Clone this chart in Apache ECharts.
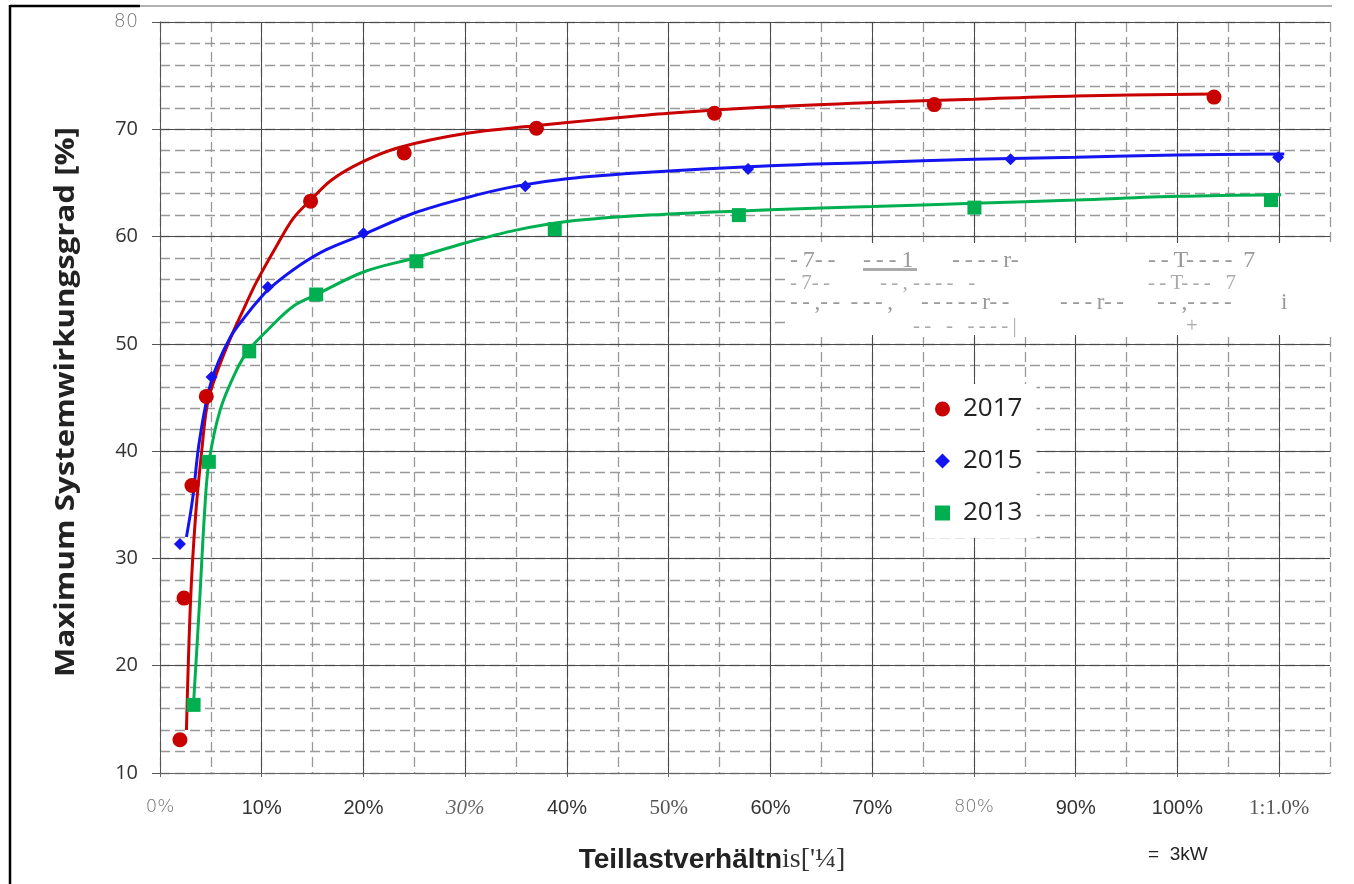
<!DOCTYPE html>
<html><head><meta charset="utf-8">
<script src="https://cdn.jsdelivr.net/npm/echarts@6/dist/echarts.min.js"></script>
<style>html,body{margin:0;padding:0;background:#fff}#c{width:1354px;height:884px}</style>
</head><body><div id="c"></div>
<script>
// ---- data ----
const years = ['2017', '2015', '2013'];
const xTickLabels = ['0%', '10%', '20%', '30%', '40%', '50%', '60%', '70%', '80%', '90%', '100%', '1:1.0%'];
const yTickLabels = ['10', '20', '30', '40', '50', '60', '70', '80'];

const dots2017 = [[1.96,13.1],[2.36,26.3],[3.14,36.8],[4.55,45.1],[14.8,63.3],[24.0,67.8],[37.0,70.1],[54.5,71.5],[76.1,72.3],[103.6,73.0]];
const dots2015 = [[1.96,31.35],[5.07,46.9],[10.6,55.3],[20.0,60.3],[35.9,64.7],[57.8,66.3],[83.6,67.2],[109.9,67.4]];
const dots2013 = [[3.3,16.35],[4.8,39.0],[8.77,49.3],[15.35,54.6],[25.2,57.7],[38.8,60.7],[56.9,62.0],[80.05,62.7],[109.2,63.4]];

const curve2017 = [[2.6,14.0],[3.0,26.0],[3.5,34.0],[4.1,40.0],[4.7,44.6],[5.7,47.6],[7.0,50.7],[8.3,53.4],[9.5,55.8],[11.5,59.2],[13.1,61.7],[14.8,63.4],[16.9,65.3],[20,67.0],[23.5,68.3],[30,69.6],[36.6,70.3],[43,70.9],[50,71.5],[60,72.1],[70,72.5],[80,72.8],[90,73.1],[103.5,73.3]];
const curve2015 = [[2.6,32.0],[3.2,35.5],[3.9,41.1],[5.07,46.6],[6.9,50.6],[8.5,52.7],[9.8,54.2],[10.8,55.2],[13.7,57.3],[16.4,58.8],[20,60.2],[25,62.2],[30,63.6],[35,64.7],[40,65.4],[48,66.0],[60,66.6],[70,66.9],[80,67.2],[90,67.4],[100,67.6],[110.5,67.7]];
const curve2013 = [[3.3,16.5],[3.9,26.1],[4.4,34.6],[4.8,38.9],[5.9,43.8],[7.5,47.5],[8.7,49.4],[10.8,51.5],[13.1,53.5],[15.4,54.6],[20,56.7],[25,58.0],[30,59.4],[35,60.6],[40,61.4],[48,62.0],[60,62.5],[70,62.8],[80,63.1],[90,63.4],[100,63.75],[110.2,63.9]];

const yTitle = 'Maximum Systemwirkungsgrad [%]';
const unitNote = '=  3kW';
// scan noise text seen in the white patch of the picture
const ocrText = [
  ['-7-- ', '---1', '----r-', '--T---- 7'],
  ['-7--', '--, ----  -', '--T---  7'],
  ['--,-- ---,', '-----r--', '---r--', '--,----', 'i'],
  ['--  -  ----|', '+']
];

// ---- chart ----
const colors = ['#c80000', '#1414f0', '#00b050'];
const dots = [dots2017, dots2015, dots2013];
const curves = [curve2017, curve2015, curve2013];
const symbols = ['circle', 'diamond', 'rect'];
const symSizes = [15, 12, 14];

const xStyleKey = ['lt','sn','sn','si','sn','sf','sn','sn','lt','sn','sn','sf'];
const chart = echarts.init(document.getElementById('c'), null, {renderer: 'canvas'});

const series = [];
years.forEach((y, i) => {
  series.push({
    name: 'fit' + y, type: 'line', data: curves[i], smooth: 0.35, showSymbol: false,
    lineStyle: {color: colors[i], width: 3}, itemStyle: {color: colors[i]}, z: 3, silent: true
  });
});
years.forEach((y, i) => {
  series.push({
    name: y, type: 'scatter', data: dots[i], symbol: symbols[i], symbolSize: symSizes[i],
    itemStyle: {color: colors[i], opacity: 1}, z: 4
  });
});

// positions of the noise segments (layout, not data)
const ocrPos = [
  [[790, 261], [863, 261], [952, 261], [1148, 261]],
  [[790, 283], [880, 283], [1148, 283]],
  [[790, 303], [921, 303], [1060, 303], [1157, 303], [1281, 303]],
  [[913, 326], [1186, 326]]
];
const ocrFont = ['24px "Liberation Serif"', '21px "Liberation Serif"', '23px "Liberation Serif"', '21px "Liberation Serif"'];
const ocrFill = ['#999', '#aaa', '#999', '#aaa'];
const ocrGraphics = [];
ocrText.forEach((line, li) => line.forEach((t, si) => {
  ocrGraphics.push({type: 'text', x: ocrPos[li][si][0], y: ocrPos[li][si][1],
    style: {text: t.replace(/-/g, '-\u2009'), font: ocrFont[li], fill: ocrFill[li], textVerticalAlign: 'middle'}, z: 6});
}));

chart.setOption({
  animation: false,
  backgroundColor: '#fff',
  grid: {left: 160, right: 24, top: 22, bottom: 111, containLabel: false},
  xAxis: [{
    type: 'value', min: 0, max: 115, interval: 10, z: 2,
    axisLine: {show: true, onZero: false, lineStyle: {color: '#666', width: 1}},
    axisTick: {show: true, length: 4, lineStyle: {color: '#666'}},
    splitLine: {show: true, showMaxLine: false, lineStyle: {color: '#4a4a4a', width: 1}},
    axisLabel: {
      margin: 25, showMaxLabel: false,
      formatter: v => {
        const k = Math.round(v / 10);
        if (Math.abs(v - k * 10) > 1e-6 || k >= xTickLabels.length) return '';
        return '{' + xStyleKey[k] + '|' + xTickLabels[k] + '}';
      },
      rich: {
        lt: {fontFamily: 'DejaVu Sans', fontSize: 18, color: '#777', fontWeight: 300},
        sn: {fontFamily: 'Liberation Sans', fontSize: 20, color: '#333'},
        si: {fontFamily: 'Liberation Serif', fontSize: 21, color: '#666', fontStyle: 'italic'},
        sf: {fontFamily: 'Liberation Serif', fontSize: 21, color: '#555'}
      }
    }
  }, {
    type: 'value', min: 0, max: 115, interval: 5, z: 1, position: 'bottom',
    axisLine: {show: false}, axisTick: {show: false}, axisLabel: {show: false},
    splitLine: {show: true, lineStyle: {color: '#999', width: 1.3, type: [10, 5]}}
  }],
  yAxis: [{
    type: 'value', min: 10, max: 80, interval: 10, z: 2,
    axisLine: {show: true, lineStyle: {color: '#555'}},
    axisTick: {show: true, length: 8, lineStyle: {color: '#555'}},
    splitLine: {show: true, lineStyle: {color: '#4a4a4a', width: 1}},
    axisLabel: {
      margin: 22,
      formatter: v => {
        const k = Math.round((v - 10) / 10);
        const t = yTickLabels[k];
        return v === 80 ? '{lt|' + t + '}' : '{n|' + t + '}';
      },
      rich: {
        lt: {fontFamily: 'DejaVu Sans', fontSize: 19, color: '#777', fontWeight: 300},
        n: {fontFamily: 'Open Sans', fontSize: 20, color: '#333'}
      }
    }
  }, {
    type: 'value', min: 10, max: 80, interval: 2, z: 1,
    axisLine: {show: false}, axisTick: {show: false}, axisLabel: {show: false},
    splitLine: {show: true, lineStyle: {color: '#999', width: 1.3, type: [10, 5]}}
  }],
  legend: {
    data: years.map((y, i) => ({name: y, icon: symbols[i]})),
    orient: 'vertical', left: 925, top: 384,
    itemWidth: 15, itemHeight: 15, itemGap: 26,
    backgroundColor: '#fff', padding: [12, 14, 12, 10],
    textStyle: {fontFamily: 'Open Sans', fontSize: 26, color: '#222', lineHeight: 26, padding: [0, 0, 0, 8]}
  },
  series: series,
  graphic: [
    {type: 'line', shape: {x1: 10, y1: 6, x2: 140, y2: 6}, style: {stroke: '#000', lineWidth: 2.5}, z: 10},
    {type: 'line', shape: {x1: 10, y1: 5, x2: 10, y2: 884}, style: {stroke: '#000', lineWidth: 2.5}, z: 10},
    {type: 'line', shape: {x1: 140, y1: 6, x2: 1332, y2: 6}, style: {stroke: '#999', lineWidth: 1.5}, z: 10},
    {type: 'rect', shape: {x: 788, y: 243, width: 554, height: 92}, style: {fill: '#fff'}, z: 5},
    {type: 'rect', shape: {x: 863, y: 268, width: 54, height: 3}, style: {fill: '#aaa'}, z: 6},
    ...ocrGraphics,
    {type: 'text', x: 67, y: 402, rotation: Math.PI / 2, scaleX: 1.2,
      style: {text: yTitle, font: 'bold 26px "Open Sans"', fill: '#222', textAlign: 'center', textVerticalAlign: 'middle'}, z: 10},
    {type: 'text', x: 712, y: 860,
      style: {
        text: '{b|Teillastverhä}{c|ltn}{s|is[\'¼]}',
        textAlign: 'center', textVerticalAlign: 'middle',
        rich: {
          b: {font: 'bold 28px "Liberation Sans Narrow", "Liberation Sans"', fill: '#222'},
          c: {font: 'bold 28px "Liberation Sans Narrow", "Liberation Sans"', fill: '#222'},
          s: {font: '28px "Liberation Serif"', fill: '#333'}
        }
      }, z: 10},
    {type: 'text', x: 1148, y: 855, style: {text: unitNote, font: '19px "Liberation Sans"', fill: '#222', textVerticalAlign: 'middle'}, z: 10}
  ]
});
</script>
</body></html>
